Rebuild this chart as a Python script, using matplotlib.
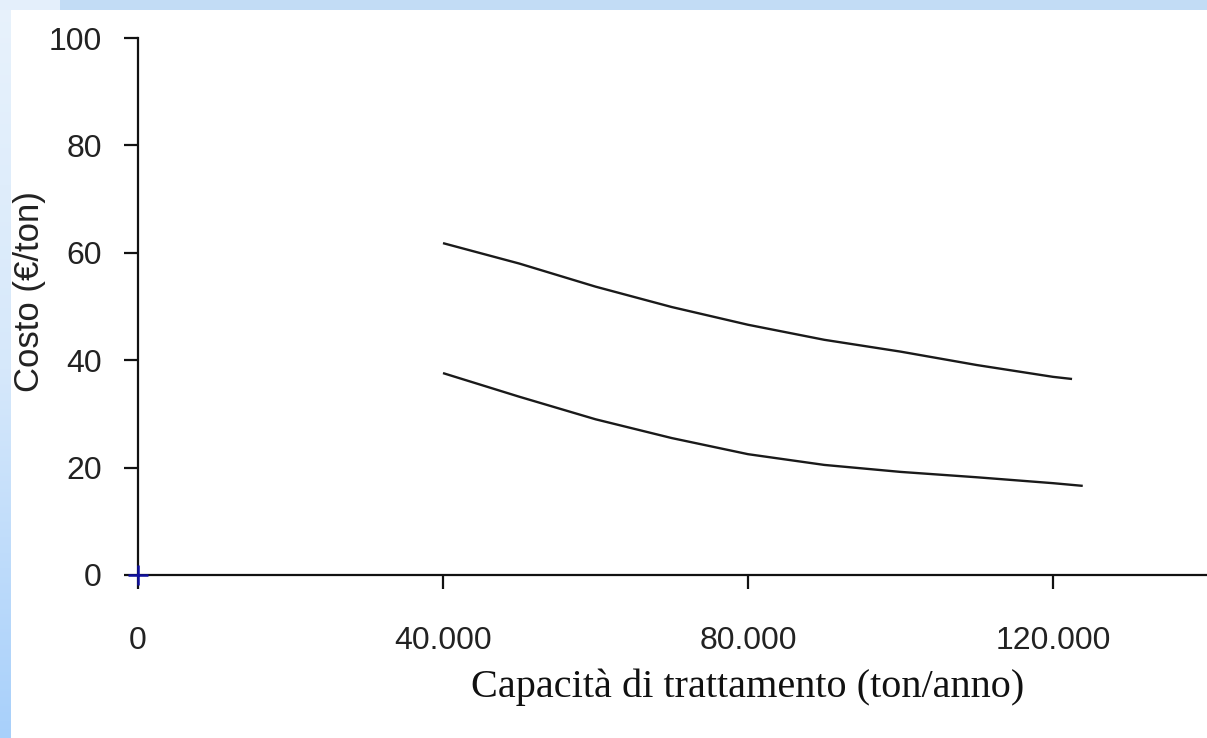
import matplotlib
matplotlib.use("Agg")
import matplotlib.pyplot as plt
import numpy as np
from matplotlib.colors import LinearSegmentedColormap

# Data
upper_x = [40000, 50000, 60000, 70000, 80000, 90000, 100000, 110000, 120000, 122500]
upper_y = [61.8, 58.0, 53.7, 49.9, 46.6, 43.8, 41.6, 39.1, 36.9, 36.5]
lower_x = [40000, 50000, 60000, 70000, 80000, 90000, 100000, 110000, 120000, 123900]
lower_y = [37.6, 33.2, 29.0, 25.5, 22.5, 20.5, 19.2, 18.2, 17.1, 16.6]
x_ticks = [0, 40000, 80000, 120000]
x_tick_labels = ["0", "40.000", "80.000", "120.000"]
y_ticks = [0, 20, 40, 60, 80, 100]
y_tick_labels = ["0", "20", "40", "60", "80", "100"]
x_label = "Capacità di trattamento (ton/anno)"
y_label = "Costo (€/ton)"

W, H = 1207, 738
fig = plt.figure(figsize=(W / 100, H / 100), dpi=100)
fig.patch.set_facecolor("#c2dcf5")

# background axes
bg = fig.add_axes([0, 0, 1, 1], zorder=-10)
bg.set_xlim(0, W)
bg.set_ylim(H, 0)
bg.set_axis_off()
grad = np.linspace(0, 1, 256).reshape(-1, 1)
cmap = LinearSegmentedColormap.from_list("g", ["#e8f2fc", "#d6e8fa", "#a8d0fb"])
bg.imshow(grad, aspect="auto", cmap=cmap, extent=[0, 11, H, 0])
bg.add_patch(plt.Rectangle((0, 0), 60, 10, facecolor="#e4effb", edgecolor="none"))
bg.add_patch(plt.Rectangle((11, 10), W - 11, H - 10, facecolor="white", edgecolor="none"))

ax = fig.add_axes([138 / W, 1 - 575 / H, (1205.5 - 138) / W, (575 - 38) / H])
ax.set_facecolor("none")
ax.plot(upper_x, upper_y, color="#1a1a1a", lw=1.7, solid_capstyle="butt")
ax.plot(lower_x, lower_y, color="#1a1a1a", lw=1.7, solid_capstyle="butt")

ax.set_xlim(0, 140000)
ax.set_ylim(0, 100)
for s in ["top", "right"]:
    ax.spines[s].set_visible(False)
for s in ["left", "bottom"]:
    ax.spines[s].set_linewidth(1.6)
    ax.spines[s].set_color("#111111")

ax.set_xticks(x_ticks)
ax.set_xticklabels(x_tick_labels)
ax.set_yticks(y_ticks)
ax.set_yticklabels(y_tick_labels)
ax.tick_params(axis="both", direction="out", length=10, width=1.6, colors="#111111",
               labelcolor="#222222", labelsize=23)
ax.tick_params(axis="y", pad=16)
ax.tick_params(axis="x", pad=27)
for lab in ax.get_xticklabels() + ax.get_yticklabels():
    lab.set_family(["Liberation Sans", "DejaVu Sans"])

# blue origin mark
ax.plot([0], [0], marker="+", color="#1010a0", markersize=14, mew=1.8,
        clip_on=False, zorder=5)

fig.text(748 / W, 1 - 687 / H, x_label, ha="center", va="center",
         family=["Liberation Serif", "DejaVu Serif"], fontsize=29, color="#111111")
fig.text(30 / W, 1 - 292 / H, y_label, ha="center", va="center", rotation=90,
         family=["Liberation Sans", "DejaVu Sans"], fontsize=25, color="#222222")

fig.savefig("out.png", dpi=100, facecolor=fig.get_facecolor())
